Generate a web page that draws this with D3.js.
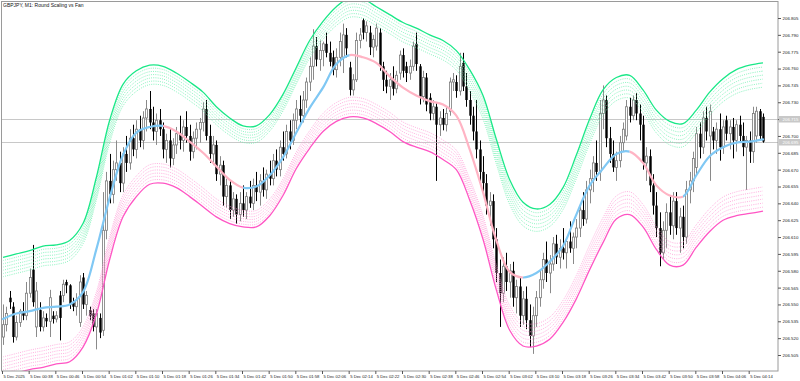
<!DOCTYPE html>
<html>
<head>
<meta charset="utf-8">
<script src="https://d3js.org/d3.v7.min.js"></script>
<style>
  body { margin: 0; background: #fff; }
  svg { display: block; font-family: "Liberation Sans", Arial, sans-serif; }
</style>
</head>
<body>
<svg width="800" height="381"></svg>
<script>
const title = "GBPJPY, M1:  Round Scaling vs Fan";

// prices are kept as points above 206.500
const base = 206.5;

const opens = [
  21,32,56,48,21,34,44,40,60,81, 30,45,30,38,35,40,37,58,58,70,
  67,52,48,34,74,50,45,42,30,38, 27,116,160,148,170,176,158,184,176,198,
  188,206,196,216,224,212,204,214,206,188, 196,180,192,202,196,208,200,186,198,206,
  212,224,200,184,192,166,174,146,156,134, 144,130,140,134,146,140,156,150,160,152,
  166,162,178,170,190,184,204,196,214,224, 218,232,248,262,280,268,276,282,274,270,
  259,270,270,290,261,241,250,285,303,292, 292,279,280,292,262,250,244,250,242,256,
  272,262,256,262,282,262,235,252,234,220, 226,210,216,210,222,248,248,240,265,244,
  232,218,204,188,168,158,138,142,108,78, 60,84,70,80,56,66,40,55,36,22,
  40,56,72,90,78,86,104,92,100,96, 106,100,110,118,134,126,152,162,176,168,
  220,232,198,184,172,178,194,200,226,218, 232,220,210,176,182,156,138,118,96,116,
  132,120,142,118,128,110,152,160,172,202, 190,216,200,204,196,206,190,214,202,208,
  196,210,200,190,196,186,200,222,217
];
const highs = [
  50,48,62,52,40,46,52,70,82,103, 70,52,44,42,63,44,44,62,72,72,
  68,56,60,76,78,62,48,46,46,42, 150,168,184,178,196,186,190,200,206,210,
  214,218,222,232,240,226,220,224,212,202, 206,198,208,218,214,222,210,204,212,216,
  230,232,210,200,196,182,178,162,160,150, 148,150,156,150,160,162,168,166,172,170,
  178,184,188,196,204,210,214,220,232,236, 240,252,270,295,288,285,284,292,284,276,
  278,292,300,296,266,255,292,296,305,302, 298,290,300,296,266,258,256,262,258,276,
  278,266,268,284,292,264,258,256,238,232, 230,222,224,226,252,256,254,274,274,256,
  240,226,232,196,182,166,150,148,118,90, 92,96,86,88,72,74,62,66,50,48,
  62,80,96,106,94,110,112,108,118,110, 124,114,126,140,150,160,170,182,196,232,
  245,236,208,196,186,200,212,232,234,236, 238,228,218,190,188,166,150,132,124,140,
  146,150,150,136,138,160,168,186,208,212, 222,226,228,208,212,220,214,218,214,216,
  214,218,212,200,204,226,226,224,220
];
const lows = [
  14,26,46,16,18,30,36,36,56,48, 21,26,26,30,21,33,34,18,52,60,
  46,44,40,30,46,40,36,26,10,20, 22,108,140,140,160,150,150,168,170,182,
  180,190,188,204,206,196,192,200,180,176, 172,174,184,188,186,194,178,180,188,194,
  204,196,176,174,160,156,138,136,126,128, 122,124,128,126,136,134,142,138,146,144,
  156,156,164,164,178,180,188,192,206,212, 212,225,240,250,262,258,262,270,262,254,
  252,262,256,270,236,236,248,278,286,284, 272,270,276,258,240,238,232,236,238,250,
  252,248,250,258,258,228,230,222,214,214, 160,200,205,204,218,240,234,236,240,226,
  210,196,180,160,150,130,120,100,70,30, 52,62,56,48,42,30,32,28,12,6,
  30,48,64,70,60,80,86,82,90,82, 96,86,100,110,120,122,140,150,160,160,
  206,190,176,168,160,172,186,196,212,214, 214,196,170,160,150,130,110,84,90,100,
  112,108,112,96,100,104,140,150,166,180, 184,196,160,188,184,178,184,196,188,180,
  186,194,182,152,176,176,194,196,194
];
const closes = [
  32,42,52,21,34,44,40,60,74,52, 62,30,38,35,56,37,40,38,68,67,
  50,48,54,70,50,58,40,30,42,25, 116,160,148,170,176,158,184,176,198,188,
  206,196,216,224,212,204,214,206,188,196, 180,192,202,196,208,200,186,198,206,212,
  224,200,184,192,166,174,146,156,134,144, 130,140,134,146,140,156,150,160,152,166,
  162,178,170,190,184,204,196,214,224,218, 232,248,262,280,268,276,282,274,266,259,
  270,284,290,278,241,250,285,290,292,298, 279,286,296,262,250,244,250,242,254,272,
  258,256,262,280,264,235,252,228,220,226, 210,216,210,220,248,250,240,262,244,232,
  218,204,188,168,158,138,142,108,78,60, 84,70,80,56,66,40,55,36,22,40,
  56,72,90,78,86,104,92,100,96,106, 100,110,118,134,126,152,162,176,168,220,
  232,198,184,172,178,194,206,226,218,232, 220,210,176,182,156,138,118,96,116,132,
  120,142,118,128,110,152,160,180,202,190, 216,204,222,196,206,190,208,202,208,196,
  210,200,190,196,186,220,222,200,195
];

// centre line, one reading every 4 bars
const centerLine = [
  37,42,44,47,48,50,61,99,145,183, 203,208,209,204,195,185,173,161,154,155,
  165,181,203,225,243,264,272,270,265,253, 243,236,231,228,218,188,150,107,79,74,
  78,88,102,130,156,171,184,186,176,156, 147,146,165,182,190,194,195,197
];
// middle of the fan and distance to its solid edges, points, same sampling
const bandMid = [
  39,42,45,48,50,53,67,102,152,187, 202,210,210,205,197,188,177,169,164,164,
  174,192,216,237,253,264,270,269,263,256, 248,243,238,232,223,201,172,130,94,77,
  74,79,94,119,148,173,189,192,180,161, 149,148,162,177,188,194,197,199
];
const bandWidth = [
  53,53,53,54,53,54,55,61,62,59, 56,53,52,51,51,51,49,47,45,45,
  45,45,45,48,49,51,53,53,52,52, 53,53,52,53,53,58,64,67,67,64,
  61,60,60,64,67,68,63,62,61,62, 64,63,61,62,63,65,66,66
];
// solid edge plus the dotted lines inside it
const bandScale = [1, 0.945, 0.89, 0.836, 0.782, 0.727, 0.673];

const priceTicks = [206.505, 206.520, 206.535, 206.550, 206.565, 206.580, 206.595,
  206.610, 206.625, 206.640, 206.655, 206.670, 206.685, 206.700, 206.715, 206.730,
  206.745, 206.760, 206.775, 206.790, 206.805];
const timeLabels = ["5 Dec 2025", "5 Dec 00:38", "5 Dec 00:46", "5 Dec 00:54", "5 Dec 01:02",
  "5 Dec 01:10", "5 Dec 01:18", "5 Dec 01:26", "5 Dec 01:34", "5 Dec 01:42", "5 Dec 01:50",
  "5 Dec 01:58", "5 Dec 02:06", "5 Dec 02:14", "5 Dec 02:22", "5 Dec 02:30", "5 Dec 02:38",
  "5 Dec 02:46", "5 Dec 02:54", "5 Dec 03:02", "5 Dec 03:10", "5 Dec 03:18", "5 Dec 03:26",
  "5 Dec 03:34", "5 Dec 03:42", "5 Dec 03:50", "5 Dec 03:58", "5 Dec 04:06", "5 Dec 04:14"];
const askPrice = 206.715, bidPrice = 206.695;

const plotRight = 778, plotBottom = 371;

let svg = d3.select("svg");
let x = d3.scaleLinear().domain([0, 8]).range([3, 29.667]);
let y = d3.scaleLinear().domain([206.505, 206.805]).range([355, 18]);
let p = v => base + v / 1000;

svg.append("clipPath").attr("id", "plot")
  .append("rect").attr("x", 2).attr("y", 2).attr("width", plotRight - 2).attr("height", plotBottom - 2);

let plot = svg.append("g").attr("clip-path", "url(#plot)");

// bid / ask lines
plot.selectAll("line.price")
  .data([askPrice, bidPrice])
  .join("line")
    .attr("class", "price")
    .attr("x1", 2).attr("x2", plotRight)
    .attr("y1", d => Math.round(y(d)) + 0.5).attr("y2", d => Math.round(y(d)) + 0.5)
    .attr("stroke", "#c8c8c8");

// candles
let bars = closes.map((c, i) => ({i: i, o: p(opens[i]), h: p(highs[i]), l: p(lows[i]), c: p(c)}));
let candle = plot.selectAll("g.bar")
  .data(bars)
  .join("g")
    .attr("class", "bar")
    .attr("transform", d => `translate(${Math.round(x(d.i)) + 0.5},0)`);

candle.append("line")
  .attr("y1", d => y(Math.max(d.h, d.o, d.c)))
  .attr("y2", d => y(Math.min(d.l, d.o, d.c)))
  .attr("stroke", d => d.c >= d.o ? "#8a8a8a" : "#000")
  .attr("stroke-width", 1);

candle.append("rect")
  .attr("x", d => d.c >= d.o ? -1 : -1.2)
  .attr("width", d => d.c >= d.o ? 2 : 2.4)
  .attr("y", d => y(Math.max(d.o, d.c)))
  .attr("height", d => Math.max(1, y(Math.min(d.o, d.c)) - y(Math.max(d.o, d.c))))
  .attr("fill", d => d.c >= d.o ? "#fff" : "#000")
  .attr("stroke", d => d.c >= d.o ? "#7a7a7a" : "none")
  .attr("stroke-width", 0.8);

// fan bands
let bandLine = (k, side) => d3.line()
    .x((d, j) => x(j * 4))
    .y((d, j) => y(p(d + side * bandScale[k] * bandWidth[j])))
    .curve(d3.curveCatmullRom);

d3.range(bandScale.length).reverse().forEach(k => {
  let solid = k === 0;
  plot.append("path").datum(bandMid)
    .attr("d", bandLine(k, 1))
    .attr("fill", "none")
    .attr("stroke", solid ? "#19e887" : "#6ff0b0")
    .attr("stroke-width", solid ? 1.3 : 0.8)
    .attr("stroke-dasharray", solid ? null : "1,1.2");
  plot.append("path").datum(bandMid)
    .attr("d", bandLine(k, -1))
    .attr("fill", "none")
    .attr("stroke", solid ? "#ff55c4" : "#ff9ad6")
    .attr("stroke-width", solid ? 1.3 : 0.8)
    .attr("stroke-dasharray", solid ? null : "1,1.2");
});

// centre line: blue while rising, pink while falling
let runs = [];
centerLine.forEach((v, j) => {
  if (j === 0) return;
  let dir = v >= centerLine[j - 1] ? "up" : "down";
  let last = runs[runs.length - 1];
  if (last && last.dir === dir) last.end = j;
  else runs.push({dir: dir, start: j - 1, end: j});
});

let centerPath = d3.line()
    .x((d, j) => x(j * 4))
    .y(d => y(p(d)))
    .curve(d3.curveCatmullRom);

let center = plot.append("g");
runs.forEach((r, k) => {
  let x0 = k === 0 ? 0 : x(r.start * 4),
      x1 = k === runs.length - 1 ? plotRight : x(r.end * 4);
  center.append("clipPath").attr("id", "run" + k)
    .append("rect")
      .attr("x", x0).attr("width", x1 - x0)
      .attr("y", 0).attr("height", plotBottom);
  center.append("path").datum(centerLine)
    .attr("clip-path", `url(#run${k})`)
    .attr("d", centerPath)
    .attr("fill", "none")
    .attr("stroke", r.dir === "up" ? "#80c8f4" : "#ffb4c4")
    .attr("stroke-width", 2.2)
    .attr("stroke-linecap", "round");
});

// frame
svg.append("rect")
  .attr("x", 1.5).attr("y", 1.5)
  .attr("width", plotRight - 1.5).attr("height", plotBottom - 1.5)
  .attr("fill", "none").attr("stroke", "#9a9a9a");

// price axis
let yAxis = svg.append("g")
  .attr("transform", `translate(${plotRight},0)`)
  .call(d3.axisRight(y).tickValues(priceTicks).tickSize(3).tickPadding(1.5).tickFormat(d3.format(".3f")));
yAxis.select(".domain").remove();
yAxis.selectAll("line").attr("stroke", "#555");
yAxis.selectAll("text").attr("font-size", 4.4).attr("fill", "#222").attr("font-family", "Liberation Sans, Arial, sans-serif");

// bid / ask labels
let tags = svg.selectAll("g.tag")
  .data([askPrice, bidPrice])
  .join("g")
    .attr("class", "tag")
    .attr("transform", d => `translate(${plotRight + 1},${Math.round(y(d))})`);
tags.append("rect").attr("x", 0).attr("y", -3).attr("width", 21).attr("height", 6.5).attr("fill", "#c8c8c8");
tags.append("text").attr("x", 3.5).attr("y", 1.8).attr("font-size", 4.4).attr("fill", "#fff")
  .text(d => d3.format(".3f")(d));

// time axis
let xAxis = svg.append("g")
  .attr("transform", `translate(0,${plotBottom})`)
  .call(d3.axisBottom(x).tickValues(timeLabels.map((t, k) => k * 8)).tickSize(3)
    .tickFormat((d, k) => timeLabels[k]));
xAxis.select(".domain").remove();
xAxis.selectAll("line").attr("stroke", "#555").attr("transform", "translate(-1,0)");
xAxis.selectAll("text")
  .attr("font-size", 4.2).attr("fill", "#222").attr("font-family", "Liberation Sans, Arial, sans-serif")
  .attr("text-anchor", "start").attr("dx", 0).attr("y", 3.8).attr("dy", "0.71em");

svg.append("text")
  .attr("x", 3).attr("y", 7)
  .attr("font-size", 5).attr("fill", "#111")
  .text(title);
</script>
</body>
</html>
